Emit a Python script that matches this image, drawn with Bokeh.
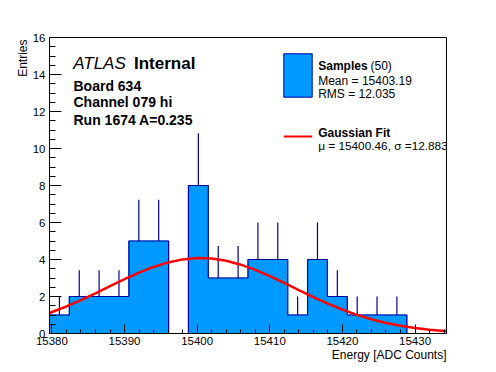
import numpy as np
from bokeh.plotting import figure
from bokeh.models import Range1d, FixedTicker, Label, BoxAnnotation, Title
from bokeh.embed import file_html
from bokeh.resources import INLINE

# ---------------- data ----------------
bin_edges = [15379.67, 15382.40, 15385.13, 15387.87, 15390.60, 15393.33,
             15396.07, 15398.80, 15401.53, 15404.27, 15407.00, 15409.73,
             15412.47, 15415.20, 15417.93, 15420.67, 15423.40, 15426.13,
             15428.87, 15431.60, 15434.33]
counts = [1, 2, 2, 2, 5, 5, 0, 8, 3, 3, 4, 4, 1, 4, 2, 1, 1, 1, 0, 0]

fit_x = [15379.67, 15382, 15384, 15386, 15388, 15390, 15392, 15394, 15396,
         15398, 15400, 15402, 15404, 15406, 15408, 15410, 15412, 15414,
         15416, 15418, 15420, 15422, 15424, 15426, 15428, 15430, 15432,
         15434, 15434.33]
fit_y = [1.110, 1.461, 1.804, 2.173, 2.556, 2.934, 3.289, 3.598, 3.843,
         4.006, 4.077, 4.051, 3.929, 3.720, 3.438, 3.102, 2.732, 2.349,
         1.971, 1.615, 1.292, 1.008, 0.769, 0.572, 0.415, 0.294, 0.204,
         0.138, 0.133]

x_ticks = [15380, 15390, 15400, 15410, 15420, 15430]
y_ticks = [0, 2, 4, 6, 8, 10, 12, 14, 16]

header_lines = ["Board 634", "Channel 079 hi", "Run 1674 A=0.235"]
legend_hist_title = "Samples"
legend_hist_n = "(50)"
legend_hist_stats = ["Mean = 15403.19", "RMS = 12.035"]
legend_fit_title = "Gaussian Fit"
legend_fit_stats = "\u03bc = 15400.46, \u03c3 =12.883"
x_title = "Energy [ADC Counts]"
y_title = "Entries"

# ---------------- styling ----------------
FONT = "Liberation Sans"
FILL = "#0099ff"
EDGE = "#000099"
RED = "#ff0000"

X0, X1 = bin_edges[0], bin_edges[-1]
Y0, Y1 = 0, 16

W, H = 490, 368
ML, MT, FW, FH = 49, 37, 397, 296

p = figure(width=W, height=H, output_backend="svg", toolbar_location=None,
           x_range=Range1d(X0, X1), y_range=Range1d(Y0, Y1),
           min_border_left=ML, min_border_top=MT,
           min_border_right=W - ML - FW, min_border_bottom=H - MT - FH)
p.background_fill_color = "white"
p.border_fill_color = "white"
p.outline_line_color = "black"
p.outline_line_width = 1
p.xgrid.visible = False
p.ygrid.visible = False

# page-pixel -> data helpers
PX_L, PX_T = ML, MT
def dx(px):
    return X0 + (px - PX_L) * (X1 - X0) / FW
def dy(py):
    return Y1 - (py - PX_T) * (Y1 - Y0) / FH

# axes
xa = p.xaxis[0]
xa.ticker = FixedTicker(ticks=x_ticks, minor_ticks=list(np.arange(15380, 15435, 2)))
xa.major_tick_in = 9
xa.major_tick_out = 0
xa.minor_tick_in = 4
xa.minor_tick_out = 0
xa.major_label_standoff = 3
ya = p.yaxis[0]
ya.ticker = FixedTicker(ticks=y_ticks, minor_ticks=list(np.arange(0, 16.01, 0.5)))
ya.major_tick_in = 12
ya.major_tick_out = 0
ya.minor_tick_in = 6
ya.minor_tick_out = 0
ya.major_label_standoff = 4
for ax in (xa, ya):
    ax.axis_line_color = "black"
    ax.major_tick_line_color = "black"
    ax.minor_tick_line_color = "black"
    ax.major_label_text_font = FONT
    ax.major_label_text_font_size = "11.5px"
    ax.major_label_text_color = "black"

# axis titles (ROOT style: at the end of the axis)
p.add_layout(Title(text=x_title, align="right", text_font=FONT,
                   text_font_size="12px", text_font_style="normal",
                   text_color="black", standoff=0,
                   vertical_align="top", text_baseline="top"), "below")
p.add_layout(Title(text=y_title, align="right", text_font=FONT,
                   text_font_size="12px", text_font_style="normal",
                   text_color="black", standoff=0, offset=2,
                   text_baseline="alphabetic"), "left")

# histogram
lefts = bin_edges[:-1]
rights = bin_edges[1:]
p.quad(left=lefts, right=rights, bottom=0, top=counts,
       fill_color=FILL, line_color=FILL, line_width=1)
p.step(x=bin_edges, y=counts + [0], mode="after", line_color=EDGE, line_width=1.2)

centers = [(a + b) / 2 for a, b in zip(lefts, rights)]
ex = [c for c, n in zip(centers, counts) if n > 0]
ey0 = [n for n in counts if n > 0]
ey1 = [n + np.sqrt(n) for n in counts if n > 0]
p.segment(x0=ex, y0=ey0, x1=ex, y1=ey1, line_color=EDGE, line_width=1.2)

# fit curve
p.line(fit_x, fit_y, line_color=RED, line_width=2.5)

def lab(text, px, py, size="12px", style="normal", align="left"):
    p.add_layout(Label(x=dx(px), y=dy(py), text=text, text_font=FONT,
                       text_font_size=size, text_font_style=style,
                       text_align=align, text_baseline="alphabetic",
                       text_color="black"))

# header
lab("ATLAS", 72.7, 63.3, "17px", "italic")
lab("Internal", 133.5, 63.3, "17px", "bold")
for t, yy in zip(header_lines, [85, 101.7, 119]):
    lab(t, 73, yy, "14px", "bold")

# legend
p.add_layout(BoxAnnotation(left=dx(283.3), right=dx(311.7), top=dy(53.3), bottom=dy(96.7),
                           fill_color=FILL, fill_alpha=1.0, line_color=EDGE,
                           line_width=1, line_alpha=1.0))
p.line([dx(283.3), dx(311.7)], [dy(136), dy(136)], line_color=RED, line_width=2)
lab(legend_hist_title, 317.7, 65, "12px", "bold")
lab(legend_hist_n, 370, 65, "12px")
lab(legend_hist_stats[0], 317.7, 80, "12px")
lab(legend_hist_stats[1], 317.7, 93.3, "12px")
lab(legend_fit_title, 317.7, 132.7, "12px", "bold")
lab(legend_fit_stats, 317.7, 145, "11.8px")

open("out.html", "w").write(file_html(p, INLINE))
